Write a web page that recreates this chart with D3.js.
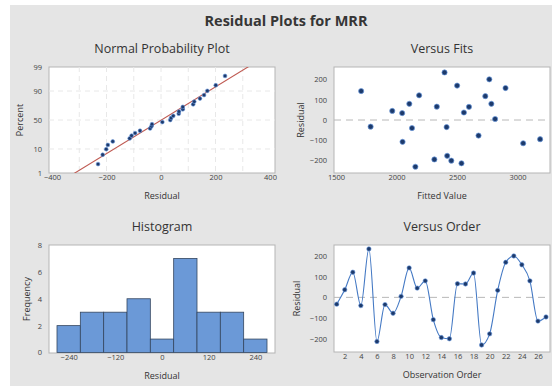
<!DOCTYPE html>
<html lang="en">

<head>
    <meta charset="UTF-8">
    <title>Residual Plots for MRR</title>
    <script src="https://d3js.org/d3.v7.min.js"></script>
    <style>
        body {
            margin: 0;
            background: #ffffff;
        }

        text {
            font-family: "Open Sans", sans-serif;
        }
    </style>
</head>

<body>
    <div id="chart"></div>
    <script>

        // residuals in observation order
        const observation = d3.range(1, 28);
        const residual = [-33, 37, 122, -40, 235, -214, -35, -77, 5, 143, 45, 80, -108, -195, -201,
            66, 65, 118, -231, -177, 34, 170, 201, 158, 80, -115, -95];
        const fitted = [1786, 2557, 2187, 2128, 2397, 2537, 2414, 2678, 2815, 1708, 1965, 2106, 2050, 2313, 2453,
            2333, 2599, 2734, 2156, 2419, 2047, 2501, 2767, 2901, 2784, 3047, 3187];

        // tick labels
        const nppXTicks = [-400, -200, 0, 200, 400];
        const nppYTicks = [1, 10, 50, 90, 99];
        const fitsXTicks = [1500, 2000, 2500, 3000];
        const residTicks = [-200, -100, 0, 100, 200];
        const histXTicks = [-240, -120, 0, 120, 240];
        const histYTicks = [0, 2, 4, 6, 8];
        const histBins = [-270, -210, -150, -90, -30, 30, 90, 150, 210, 270];
        const orderTicks = d3.range(2, 27, 2);

        const W = 552, H = 387;

        const svg = d3.select("#chart")
            .append("svg")
            .attr("width", W)
            .attr("height", H);

        // grey panel background
        svg.append("rect")
            .attr("x", 10).attr("y", 5)
            .attr("width", W - 10).attr("height", 381)
            .attr("fill", "#e5e5e5");

        svg.append("text")
            .attr("x", 286).attr("y", 26)
            .attr("text-anchor", "middle")
            .attr("font-size", "14.5px")
            .attr("font-weight", "bold")
            .attr("fill", "#363636")
            .text("Residual Plots for MRR");

        // inverse normal cdf (Acklam)
        function qnorm(p) {
            const a = [-39.6968302866538, 220.946098424521, -275.928510446969, 138.357751867269, -30.6647980661472, 2.50662827745924];
            const b = [-54.4760987982241, 161.585836858041, -155.698979859887, 66.8013118877197, -13.2806815528857];
            const c = [-0.00778489400243029, -0.322396458041136, -2.40075827716184, -2.54973253934373, 4.37466414146497, 2.93816398269878];
            const d = [0.00778469570904146, 0.32246712907004, 2.445134137143, 3.75440866190742];
            const pl = 0.02425;
            let q, r;
            if (p < pl) {
                q = Math.sqrt(-2 * Math.log(p));
                return (((((c[0] * q + c[1]) * q + c[2]) * q + c[3]) * q + c[4]) * q + c[5]) /
                    ((((d[0] * q + d[1]) * q + d[2]) * q + d[3]) * q + 1);
            }
            if (p > 1 - pl) {
                q = Math.sqrt(-2 * Math.log(1 - p));
                return -(((((c[0] * q + c[1]) * q + c[2]) * q + c[3]) * q + c[4]) * q + c[5]) /
                    ((((d[0] * q + d[1]) * q + d[2]) * q + d[3]) * q + 1);
            }
            q = p - 0.5;
            r = q * q;
            return (((((a[0] * r + a[1]) * r + a[2]) * r + a[3]) * r + a[4]) * r + a[5]) * q /
                (((((b[0] * r + b[1]) * r + b[2]) * r + b[3]) * r + b[4]) * r + 1);
        }

        // draws the white plot box, titles and tick labels for one panel
        function panel(box, title, xLabel, yLabel, yLabelX) {
            const g = svg.append("g");
            g.append("rect")
                .attr("x", box.x0).attr("y", box.y0)
                .attr("width", box.x1 - box.x0).attr("height", box.y1 - box.y0)
                .attr("fill", "white")
                .attr("stroke", "#b5b5b5")
                .attr("stroke-width", 1);
            g.append("text")
                .attr("x", (box.x0 + box.x1) / 2).attr("y", box.y0 - 14)
                .attr("text-anchor", "middle")
                .attr("font-size", "12.5px")
                .attr("fill", "#333")
                .text(title);
            g.append("text")
                .attr("x", (box.x0 + box.x1) / 2).attr("y", box.y1 + 26)
                .attr("text-anchor", "middle")
                .attr("font-size", "9px")
                .attr("fill", "#333")
                .text(xLabel);
            g.append("text")
                .attr("transform", `translate(${yLabelX}, ${(box.y0 + box.y1) / 2}) rotate(-90)`)
                .attr("text-anchor", "middle")
                .attr("font-size", "9px")
                .attr("fill", "#333")
                .text(yLabel);
            return g;
        }

        function xAxis(g, box, scale, ticks, fmt) {
            g.append("g")
                .attr("transform", `translate(0, ${box.y1})`)
                .call(d3.axisBottom(scale).tickValues(ticks).tickSize(0).tickPadding(1.5).tickFormat(fmt || d3.format("d")))
                .call(a => a.select(".domain").remove())
                .call(a => a.selectAll("text").attr("font-size", "7.5px").attr("fill", "#444")
                    .style("font-family", "Open Sans"));
        }

        function yAxis(g, box, scale, ticks, fmt) {
            g.append("g")
                .attr("transform", `translate(${box.x0}, 0)`)
                .call(d3.axisLeft(scale).tickValues(ticks).tickSize(0).tickPadding(7).tickFormat(fmt || d3.format("d")))
                .call(a => a.select(".domain").remove())
                .call(a => a.selectAll("text").attr("font-size", "7.5px").attr("fill", "#444")
                    .style("font-family", "Open Sans"));
        }

        const dotFill = "#1d3a6b";
        const lineBlue = "#4479c4";

        // ---------- normal probability plot ----------
        const nppBox = { x0: 49, x1: 275, y0: 67, y1: 173 };
        const n = residual.length;
        const sorted = residual.slice().sort((a, b) => a - b);
        const nppData = sorted.map((r, i) => ({ r: r, z: qnorm((i + 1 - 0.3) / (n + 0.4)) }));

        const nppX = d3.scaleLinear().domain([-400, 400]).range([52, 270]);
        const nppY = d3.scaleLinear().domain([qnorm(0.01), qnorm(0.99)]).range([172.6, 67.4]);

        const npp = panel(nppBox, "Normal Probability Plot", "Residual", "Percent", 23);

        npp.append("clipPath").attr("id", "clipNpp")
            .append("rect")
            .attr("x", nppBox.x0).attr("y", nppBox.y0)
            .attr("width", nppBox.x1 - nppBox.x0).attr("height", nppBox.y1 - nppBox.y0);

        // faint grid
        npp.selectAll(".vgrid")
            .data(d3.range(-300, 301, 100))
            .join("line")
            .attr("x1", d => nppX(d)).attr("x2", d => nppX(d))
            .attr("y1", nppBox.y0).attr("y2", nppBox.y1)
            .attr("stroke", "#e8e8e8").attr("stroke-dasharray", "5,4");
        npp.selectAll(".hgrid")
            .data([10, 50, 90])
            .join("line")
            .attr("x1", nppBox.x0).attr("x2", nppBox.x1)
            .attr("y1", d => nppY(qnorm(d / 100))).attr("y2", d => nppY(qnorm(d / 100)))
            .attr("stroke", "#e8e8e8").attr("stroke-dasharray", "5,4");

        // fitted normal line
        const mu = d3.mean(residual), sd = d3.deviation(residual);
        npp.append("line")
            .attr("clip-path", "url(#clipNpp)")
            .attr("x1", nppX(mu - 3 * sd)).attr("y1", nppY(-3))
            .attr("x2", nppX(mu + 3 * sd)).attr("y2", nppY(3))
            .attr("stroke", "#bf5a52").attr("stroke-width", 1.1);

        npp.selectAll("circle")
            .data(nppData)
            .join("circle")
            .attr("cx", d => nppX(d.r))
            .attr("cy", d => nppY(d.z))
            .attr("r", 1.9)
            .attr("fill", dotFill)
            .attr("stroke", "#6b9be0")
            .attr("stroke-width", 0.6);

        xAxis(npp, nppBox, nppX, nppXTicks);
        yAxis(npp, nppBox, nppY, nppYTicks.map(p => qnorm(p / 100)), (d, i) => nppYTicks[i]);

        // ---------- versus fits ----------
        const fitsBox = { x0: 334, x1: 550, y0: 67, y1: 173 };
        const fitsX = d3.scaleLinear().domain([1500, 3000]).range([336, 517.5]);
        const fitsY = d3.scaleLinear().domain([-262, 262]).range([173, 67]);

        const fits = panel(fitsBox, "Versus Fits", "Fitted Value", "Residual", 304);

        fits.append("line")
            .attr("x1", fitsBox.x0).attr("x2", fitsBox.x1)
            .attr("y1", fitsY(0)).attr("y2", fitsY(0))
            .attr("stroke", "#b8b8b8").attr("stroke-dasharray", "7,5");

        fits.selectAll("circle")
            .data(observation)
            .join("circle")
            .attr("cx", i => fitsX(fitted[i - 1]))
            .attr("cy", i => fitsY(residual[i - 1]))
            .attr("r", 2.6)
            .attr("fill", dotFill)
            .attr("stroke", "#6b9be0")
            .attr("stroke-width", 0.7);

        xAxis(fits, fitsBox, fitsX, fitsXTicks);
        yAxis(fits, fitsBox, fitsY, residTicks);

        // ---------- histogram ----------
        const histBox = { x0: 49, x1: 275, y0: 245, y1: 353 };
        const histX = d3.scaleLinear().domain([-270, 270]).range([57, 267]);
        const histY = d3.scaleLinear().domain([0, 8]).range([352.5, 245]);

        const bins = d3.bin().domain([-270, 270]).thresholds(histBins.slice(1, -1))(residual);

        const hist = panel(histBox, "Histogram", "Residual", "Frequency", 30);

        hist.selectAll(".bar")
            .data(bins)
            .join("rect")
            .attr("x", d => histX(d.x0))
            .attr("y", d => histY(d.length))
            .attr("width", d => histX(d.x1) - histX(d.x0))
            .attr("height", d => histY(0) - histY(d.length))
            .attr("fill", "#6b99d7")
            .attr("stroke", "#34465f")
            .attr("stroke-width", 0.8);

        xAxis(hist, histBox, histX, histXTicks);
        yAxis(hist, histBox, histY, histYTicks);

        // ---------- versus order ----------
        const orderBox = { x0: 334, x1: 550, y0: 245, y1: 352 };
        const orderX = d3.scaleLinear().domain([1, 27]).range([336.7, 546]);
        const orderY = d3.scaleLinear().domain([-265, 254]).range([352, 245]);

        const order = panel(orderBox, "Versus Order", "Observation Order", "Residual", 300);

        order.append("line")
            .attr("x1", orderBox.x0).attr("x2", orderBox.x1)
            .attr("y1", orderY(0)).attr("y2", orderY(0))
            .attr("stroke", "#b8b8b8").attr("stroke-dasharray", "7,5");

        order.append("path")
            .datum(observation)
            .attr("d", d3.line().curve(d3.curveMonotoneX).x(i => orderX(i)).y(i => orderY(residual[i - 1])))
            .attr("fill", "none")
            .attr("stroke", lineBlue)
            .attr("stroke-width", 1.1);

        order.selectAll("circle")
            .data(observation)
            .join("circle")
            .attr("cx", i => orderX(i))
            .attr("cy", i => orderY(residual[i - 1]))
            .attr("r", 2.2)
            .attr("fill", dotFill)
            .attr("stroke", "#6b9be0")
            .attr("stroke-width", 0.6);

        xAxis(order, orderBox, orderX, orderTicks);
        yAxis(order, orderBox, orderY, residTicks);

    </script>

</body>

</html>
